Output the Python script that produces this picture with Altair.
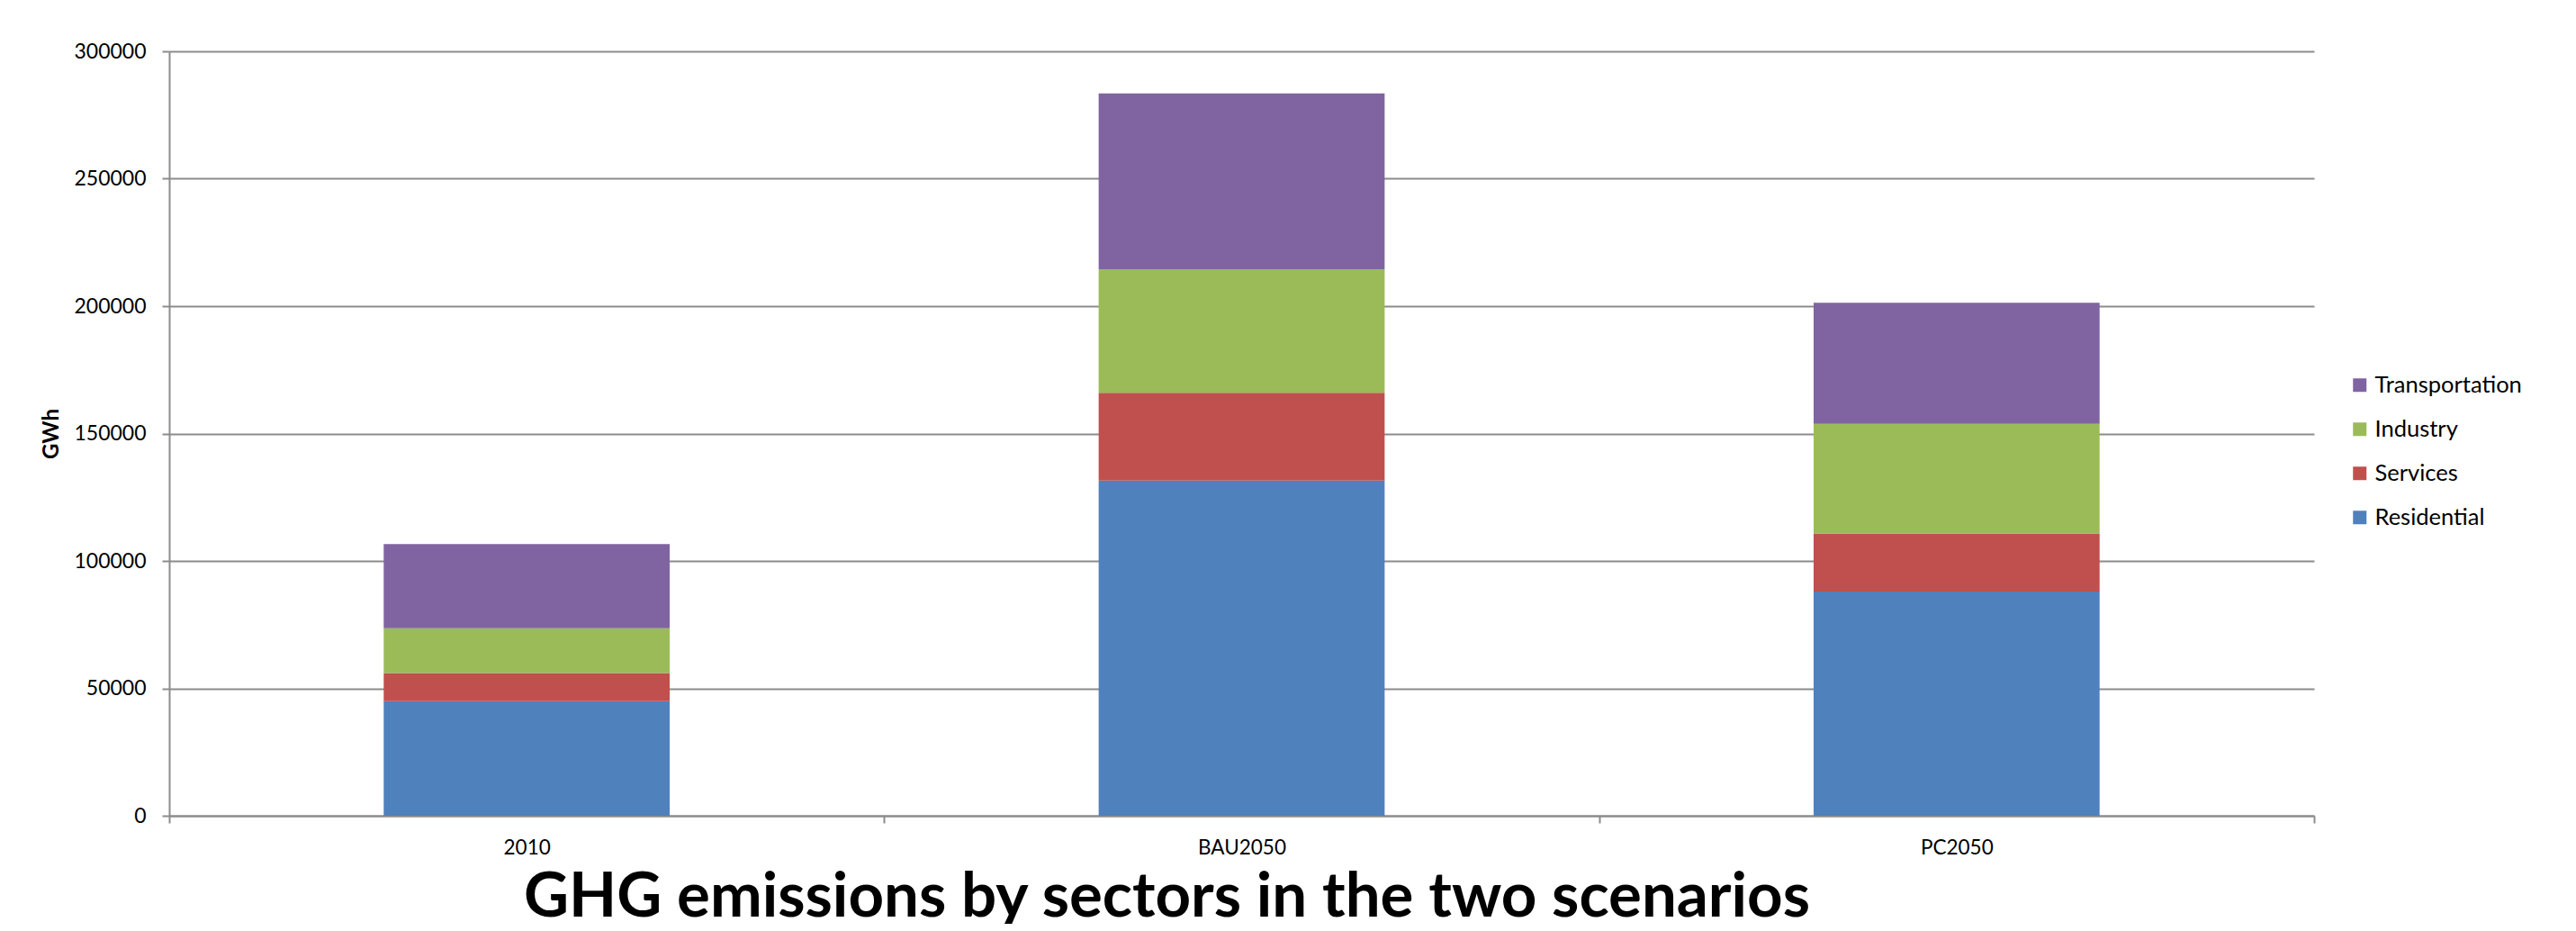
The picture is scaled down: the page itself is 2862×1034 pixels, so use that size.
import altair as alt
import pandas as pd

categories = ["2010", "BAU2050", "PC2050"]
sectors = ["Residential", "Services", "Industry", "Transportation"]
residential = [45000, 131500, 88000]
services = [11000, 34500, 22800]
industry = [17600, 48500, 43000]
transportation = [33000, 69000, 47500]
colors = ["#4F81BD", "#C0504D", "#9BBB59", "#8064A2"]
y_ticks = [0, 50000, 100000, 150000, 200000, 250000, 300000]

series = [residential, services, industry, transportation]
rows = []
for si, (name, vals) in enumerate(zip(sectors, series)):
    for cat, v in zip(categories, vals):
        rows.append({"scenario": cat, "sector": name, "value": v, "order": si})
df = pd.DataFrame(rows)

legend_order = sectors[::-1]
legend_colors = colors[::-1]

chart = alt.Chart(df).mark_bar(width=alt.RelativeBandSize(0.4)).encode(
    x=alt.X("scenario:N", sort=categories, title=None,
            scale=alt.Scale(paddingInner=0, paddingOuter=0),
            axis=alt.Axis(labelAngle=0, tickBand="extent", ticks=True, tickSize=8,
                          tickColor="#8C8C8C", tickWidth=2, domainColor="#8C8C8C",
                          domainWidth=2, labelFont="Lato", labelFontSize=22.5,
                          labelColor="#000000", labelPadding=16, grid=False)),
    y=alt.Y("value:Q", stack="zero", title="GWh",
            scale=alt.Scale(domain=[0, 300000], nice=False),
            axis=alt.Axis(values=y_ticks, format="d", tickSize=8, tickColor="#8C8C8C",
                          tickWidth=2, domainColor="#8C8C8C", domainWidth=2,
                          gridColor="#8C8C8C", gridWidth=2, grid=True,
                          labelFont="Lato", labelFontSize=23, labelColor="#000000",
                          labelPadding=18, titleFont="Lato", titleFontSize=24,
                          titleFontWeight="bold", titleColor="#000000", titlePadding=12)),
    color=alt.Color("sector:N", title=None,
                    scale=alt.Scale(domain=legend_order, range=legend_colors),
                    legend=alt.Legend(orient="none", legendX=2421, legendY=358,
                                      symbolType="square", symbolSize=225,
                                      symbolStrokeWidth=0, labelFont="Lato",
                                      labelFontSize=25.5, labelColor="#000000",
                                      labelOffset=4, rowPadding=22, labelLimit=0)),
    order=alt.Order("order:Q", sort="ascending"),
).properties(
    width=2383,
    height=849,
    title=alt.TitleParams("GHG emissions by sectors in the two scenarios",
                          orient="bottom", anchor="middle", font="Lato",
                          fontSize=69, fontWeight="bold", color="#000000",
                          dx=-83, offset=10),
    autosize=alt.AutoSizeParams(type="none"),
    padding={"left": 180, "top": 49, "right": 270, "bottom": 120},
).configure_view(stroke=None)

chart.save("out.html", embed_options={"renderer": "svg", "actions": False})
